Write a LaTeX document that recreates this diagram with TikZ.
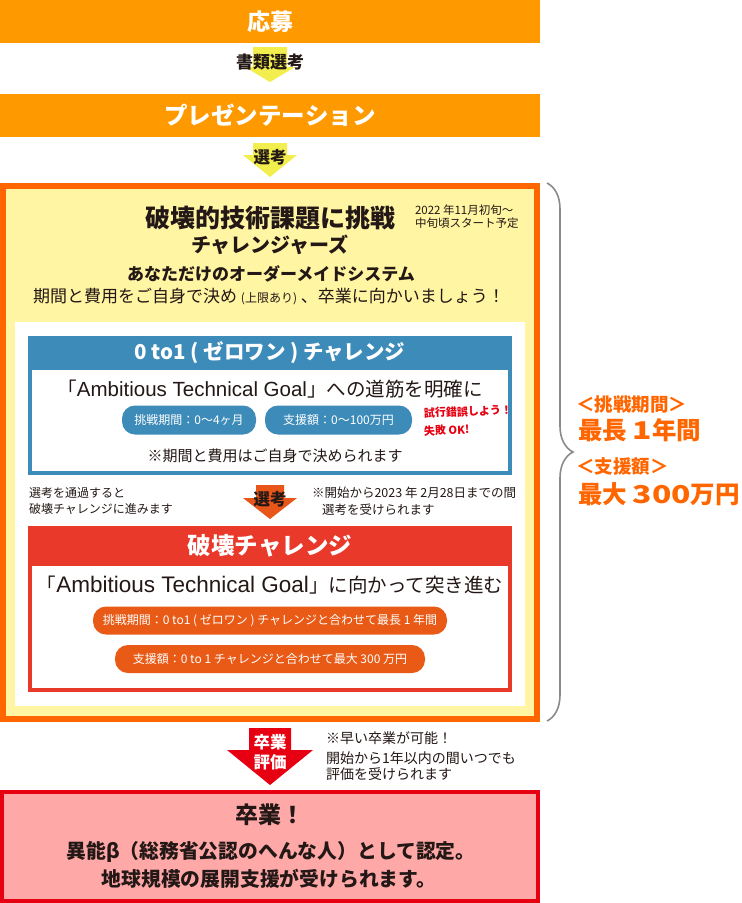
\documentclass[tikz,border=0pt]{standalone}
\usepackage{fontspec}
\setmainfont{Noto Sans CJK JP}
\newfontfamily\latfont{Liberation Sans}
\usetikzlibrary{decorations.pathreplacing}
\definecolor{barorange}{HTML}{FF9900}
\definecolor{boxorange}{HTML}{FF6600}
\definecolor{paleyellow}{HTML}{FFF5A3}
\definecolor{arrowyellow}{HTML}{F1EE4E}
\definecolor{zoblue}{HTML}{3D8BB9}
\definecolor{hkred}{HTML}{E8392A}
\definecolor{pillorange}{HTML}{E85A16}
\definecolor{arroworange}{HTML}{E8561A}
\definecolor{gradred}{HTML}{E60012}
\definecolor{gradpink}{HTML}{FFA8A8}
\definecolor{txt}{HTML}{231815}
\definecolor{bracegray}{HTML}{8A8A8A}
\newcommand\fsz[1]{\fontsize{#1pt}{#1pt}\selectfont}
\newcommand\wide[1]{\scalebox{1.3}[1]{#1}}
\tikzset{
  bar/.style={fill=barorange, text=white, minimum width=540pt, minimum height=43pt, anchor=north west, font=\bfseries},
  pillb/.style={fill=zoblue, rounded corners=13pt, text=white, minimum height=29pt},
  pillo/.style={fill=pillorange, rounded corners=13pt, text=white, minimum height=28pt},
  lbl/.style={anchor=west},
  sumtext/.style={anchor=west, text=boxorange, font=\bfseries},
}
\begin{document}
\begin{tikzpicture}[x=1pt,y=-1pt, every node/.style={inner sep=0pt, outer sep=0pt, text=txt}]
\useasboundingbox (0,0) rectangle (742,903);
\fill[white] (0,0) rectangle (742,903);

% top bars
\node[bar] (apply) at (0,0) {\fsz{23}応募};
\fill[arrowyellow] (253,47) -- (287,47) -- (287,67) -- (295,67) -- (270,82) -- (245,67) -- (253,67) -- cycle;
\node[font=\bfseries] (docsel) at (270,62) {\fsz{17}書類選考};
\node[bar] (pres) at (0,94) {\fsz{23.5}プレゼンテーション};
\fill[arrowyellow] (253,143) -- (287,143) -- (287,155) -- (297,155) -- (270,177) -- (243,155) -- (253,155) -- cycle;
\node[font=\bfseries] (sel1) at (270,157) {\fsz{16.5}選考};

% big box
\draw[boxorange, line width=6pt, fill=paleyellow] (3,186) rectangle (537,719);
\fill[white] (15,322) rectangle (525,706);
\node[font=\bfseries] (title) at (270,218) {\fsz{25}破壊的技術課題に挑戦};
\node[lbl] (date1) at (415,210) {\fsz{11.5}2022 年11月初旬〜};
\node[lbl] (date2) at (415,223) {\fsz{11.5}中旬頃スタート予定};
\node[font=\bfseries] (chal) at (270,245) {\fsz{20}チャレンジャーズ};
\node[font=\bfseries] (order) at (271,274) {\fsz{17}あなただけのオーダーメイドシステム};
\node (decide) at (269,297) {\fsz{17}期間と費用をご自身で決め {\fsz{12}(上限あり)} 、卒業に向かいましょう！};

% 0 to 1 box
\draw[zoblue, line width=4pt, fill=white] (30,338) rectangle (510,473);
\fill[zoblue] (28,336) rectangle (512,370);
\node[text=white, font=\bfseries] (zohead) at (270,353) {\fsz{20.5}0 to1 ( ゼロワン ) チャレンジ};
\node (zogoal) at (270,389) {\fsz{19.5}「{\latfont\fsz{20.5}Ambitious Technical Goal}」への道筋を明確に};
\node[pillb, minimum width=134pt] (zop1) at (189,420) {\fsz{12}挑戦期間：0〜4ヶ月};
\node[pillb, minimum width=147pt] (zop2) at (338.5,420) {\fsz{12}支援額：0〜100万円};
\node[lbl, text=gradred, font=\bfseries, rotate=2] (trial1) at (424,413) {\fsz{11}試行錯誤しよう！};
\node[lbl, text=gradred, font=\bfseries, rotate=2] (trial2) at (424,431) {\fsz{11}失敗 OK!};
\node (zonote) at (275,456) {\fsz{15}※期間と費用はご自身で決められます};

% between
\node[lbl] (pass1) at (29,493) {\fsz{12}選考を通過すると};
\node[lbl] (pass2) at (29,509) {\fsz{12}破壊チャレンジに進みます};
\node[lbl] (until1) at (312,493) {\fsz{12.5}※開始から2023 年 2月28日までの間};
\node[lbl] (until2) at (322,510) {\fsz{12.5}選考を受けられます};
\fill[arroworange] (256,485) -- (284,485) -- (284,498) -- (297,498) -- (270,519) -- (243,498) -- (256,498) -- cycle;
\node[font=\bfseries] (sel2) at (270,499) {\fsz{16.5}選考};

% hakai box
\draw[hkred, line width=4pt, fill=white] (30,528) rectangle (510,690);
\fill[hkred] (28,526) rectangle (512,566);
\node[text=white, font=\bfseries] (hkhead) at (270,546) {\fsz{23.5}破壊チャレンジ};
\node (hkgoal) at (270,585) {\fsz{19.5}「{\latfont\fsz{22.5}Ambitious Technical Goal}」に向かって突き進む};
\node[pillo, minimum width=354pt] (hkp1) at (270,620.5) {\fsz{12}挑戦期間：0 to1 ( ゼロワン ) チャレンジと合わせて最長 1 年間};
\node[pillo, minimum width=310pt] (hkp2) at (270,659) {\fsz{12}支援額：0 to 1 チャレンジと合わせて最大 300 万円};

% brace and summary
\draw[bracegray, line width=1.6pt, decorate, decoration={brace, amplitude=26pt}] (547,183) -- (547,721);
\node[sumtext] (sumperiod) at (576,404) {\fsz{18.5}＜挑戦期間＞};
\node[sumtext] (sumyear) at (578,430) {\fsz{24.5}最長 \wide{1}年間};
\node[sumtext] (sumfund) at (576,466) {\fsz{18.5}＜支援額＞};
\node[sumtext] (summax) at (578,494) {\fsz{24.5}最大 \wide{300}万円};

% graduation arrow
\fill[gradred] (249,728) -- (291,728) -- (291,750) -- (313,750) -- (270,785) -- (227,750) -- (249,750) -- cycle;
\node[text=white, font=\bfseries] (eval1) at (270,742) {\fsz{16.5}卒業};
\node[text=white, font=\bfseries] (eval2) at (270,762) {\fsz{16.5}評価};
\node[lbl] (early1) at (326,738) {\fsz{14}※早い卒業が可能！};
\node[lbl] (early2) at (326,758) {\fsz{14}開始から1年以内の間いつでも};
\node[lbl] (early3) at (326,774) {\fsz{14}評価を受けられます};

% graduation box
\draw[gradred, line width=4pt, fill=gradpink] (2,792) rectangle (538,901);
\node[font=\bfseries] (grad) at (270,815) {\fsz{23}卒業！};
\node[font=\bfseries] (grad2) at (271,852) {\fsz{19.8}異能β（総務省公認のへんな人）として認定。};
\node[font=\bfseries] (grad3) at (269,879) {\fsz{19.8}地球規模の展開支援が受けられます。};
\end{tikzpicture}
\end{document}
